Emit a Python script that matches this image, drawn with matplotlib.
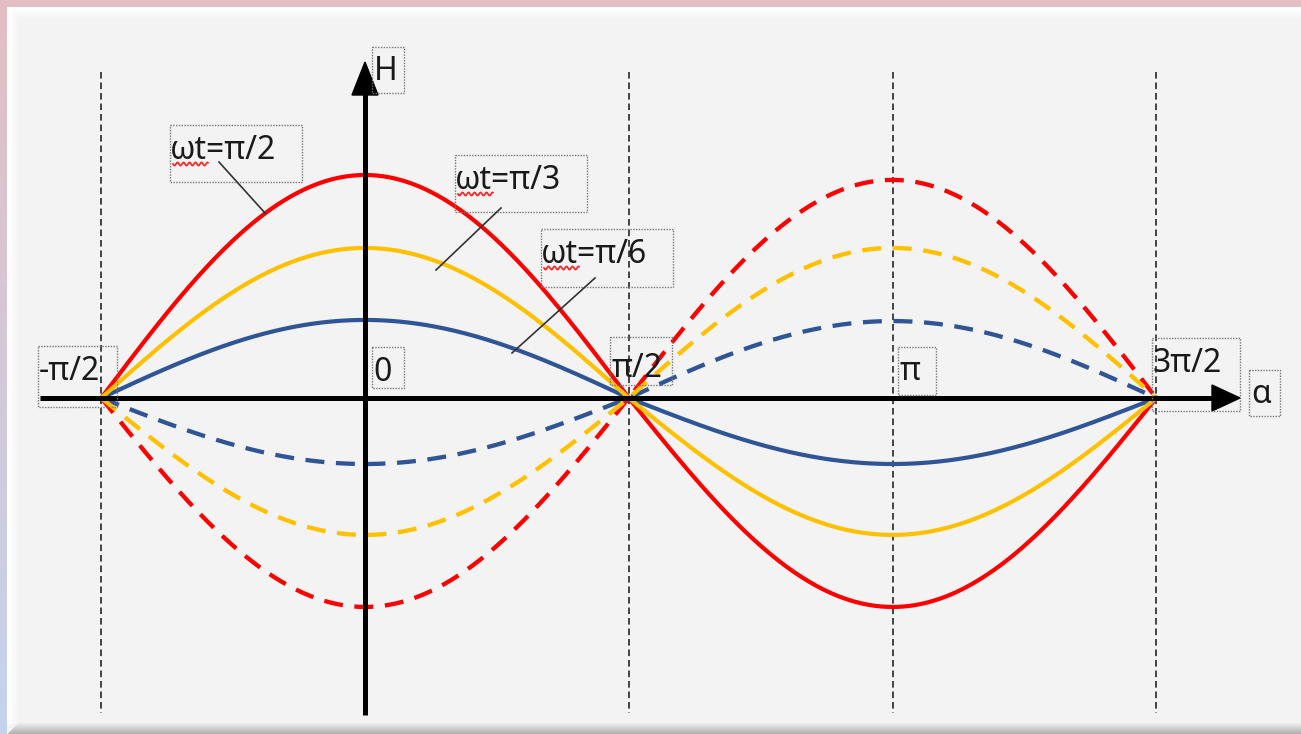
import matplotlib.pyplot as plt
import matplotlib.transforms as mtransforms
import numpy as np
from matplotlib.patches import Polygon, Rectangle

plt.rcParams["font.family"] = ["Noto Sans", "DejaVu Sans"]

W, H = 1301, 734

# field amplitude for each wt, read separately for the positive and negative lobes
labels = ["ωt=π/2", "ωt=π/3", "ωt=π/6"]
colors = ["#ff0000", "#ffc000", "#2f5597"]
solid_left = [1.00, 0.673, 0.350]    # peak at alpha = 0
solid_right = [0.937, 0.614, 0.296]  # trough at alpha = pi
dashed_left = [0.937, 0.614, 0.296]  # trough at alpha = 0
dashed_right = [0.978, 0.673, 0.345] # peak at alpha = pi

grid_alpha = [-np.pi / 2, np.pi / 2, np.pi, 3 * np.pi / 2]
tick_text = ["-π/2", "0", "π/2", "π", "3π/2"]

# pixel layout of the drawing
X0, Y0 = 365, 398
SX = 1055 / (2 * np.pi)
SY = 223.0


def frame_image():
    img = np.ones((H, W, 3)) * (243 / 255)
    # bevel highlight along top and left
    for i in range(13):
        v = 1.0 - (i / 13) * (1 - 243 / 255)
        img[7 + i, 7 + i:, :] = v
        img[7 + i:H - 10, 7 + i, :] = v
    # shaded bottom edge
    for i in range(12):
        v = (243 - i * 6) / 255
        img[H - 12 + i, 7 + (12 - i):, :] = v
    # coloured outer band
    img[:7, :, :] = np.array([227, 190, 195]) / 255
    t = np.linspace(0, 1, H)[:, None]
    left = (1 - t) * np.array([227, 190, 195]) + t * np.array([196, 211, 238])
    img[:, :7, :] = (left / 255)[:, None, :]
    return img


def draw_box(ax, pix, x0, y0, x1, y1):
    ax.add_patch(Rectangle((x0, y0), x1 - x0, y1 - y0, transform=pix,
                           fill=False, ec="#777777", lw=1.0, ls=(0, (1, 1)),
                           zorder=6))


def squiggle(ax, pix, x0, x1, y):
    xs = np.linspace(x0, x1, 80)
    ax.plot(xs, y + 1.6 * np.sin((xs - x0) * 2 * np.pi / 6), color="#ff2020",
            lw=1.2, transform=pix, zorder=7)


def main() -> None:
    fig = plt.figure(figsize=(W / 100, H / 100), dpi=100)
    fig.figimage(frame_image(), 0, 0, zorder=-10)

    ax = fig.add_axes([0, 0, 1, 1])
    ax.set_zorder(1)
    ax.set_xlim(-X0 / SX, (W - X0) / SX)
    ax.set_ylim(-(H - Y0) / SY, Y0 / SY)
    ax.patch.set_alpha(0)
    ax.axis("off")

    # pixel coordinates measured from the top-left corner
    pix = mtransforms.Affine2D().scale(1 / W, -1 / H).translate(0, 1) + fig.transFigure

    # vertical reference lines
    for a in grid_alpha:
        ax.plot([a, a], [(Y0 - 72) / SY, (Y0 - 713) / SY], color="#444444",
                lw=1.4, dashes=(3.4, 2.0), zorder=2)

    # axes with arrow heads
    ax.plot([40, 1215], [Y0, Y0], color="black", lw=3.6, transform=pix,
            solid_capstyle="butt", zorder=4)
    ax.add_patch(Polygon([[1240, Y0], [1212, Y0 - 13], [1212, Y0 + 13]],
                         closed=True, color="black", transform=pix, zorder=4))
    ax.plot([X0, X0], [715, 92], color="black", lw=3.6, transform=pix,
            solid_capstyle="butt", zorder=4)
    ax.add_patch(Polygon([[X0, 62], [X0 - 13, 95], [X0 + 13, 95]],
                         closed=True, color="black", transform=pix, zorder=4))

    alpha = np.linspace(-np.pi / 2, 3 * np.pi / 2, 600)
    left = alpha <= np.pi / 2
    c = np.cos(alpha)
    for i in [0, 2, 1]:
        solid = np.where(left, solid_left[i] * c, solid_right[i] * c)
        dashed = np.where(left, -dashed_left[i] * c, -dashed_right[i] * c)
        ax.plot(alpha, dashed, color=colors[i], lw=3.1, dashes=(4.4, 2.7),
                zorder=3)
        ax.plot(alpha, solid, color=colors[i], lw=3.0, zorder=3.5)

    fs = 23
    # curve labels with leader lines
    label_boxes = [(170, 125, 302, 182), (455, 155, 587, 212), (541, 229, 673, 287)]
    leaders = [((219, 162), (265, 213)), ((501, 208), (436, 270)), ((595, 278), (512, 353))]
    for text, (x0, y0, x1, y1), (p, q) in zip(labels, label_boxes, leaders):
        draw_box(ax, pix, x0, y0, x1, y1)
        ax.text(x0 + 0, y0 + 34, text, fontsize=fs, transform=pix, color="#1a1a1a",
                va="baseline", ha="left", zorder=7)
        squiggle(ax, pix, x0 + 3, x0 + 38, y0 + 39)
        ax.plot([p[0], q[0]], [p[1], q[1]], color="#333333", lw=1.2,
                transform=pix, zorder=6)

    # tick labels along the alpha axis
    tick_boxes = [(38, 346, 117, 407), (372, 347, 404, 388), (610, 337, 672, 385),
                  (898, 347, 936, 395), (1152, 338, 1240, 411)]
    tick_base = [380, 381, 377, 380, 372]
    for text, (x0, y0, x1, y1), yb in zip(tick_text, tick_boxes, tick_base):
        draw_box(ax, pix, x0, y0, x1, y1)
        ax.text(x0 + 1, yb, text, fontsize=fs, transform=pix, color="#1a1a1a",
                va="baseline", ha="left", zorder=7)

    # axis names
    draw_box(ax, pix, 372, 47, 404, 93)
    ax.text(374, 80, "H", fontsize=fs, transform=pix, color="#1a1a1a",
            va="baseline", ha="left", zorder=7)
    draw_box(ax, pix, 1249, 370, 1280, 416)
    ax.text(1251, 403, "α", fontsize=fs, transform=pix, color="#1a1a1a",
            va="baseline", ha="left", zorder=7)

    fig.savefig("out.png", dpi=100)
    plt.close(fig)


if __name__ == "__main__":
    main()
